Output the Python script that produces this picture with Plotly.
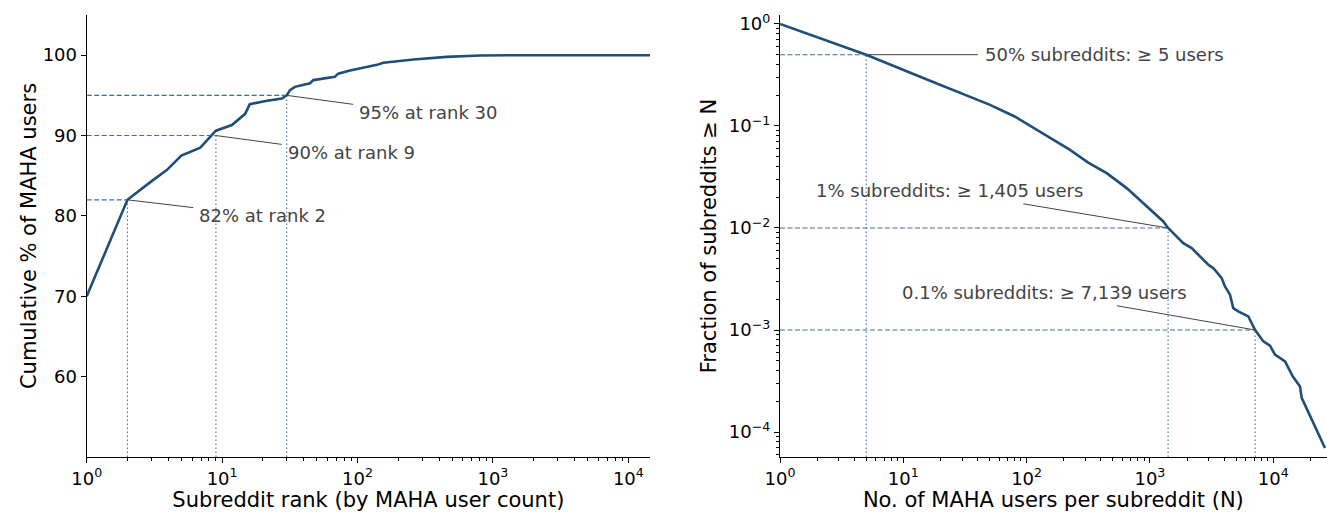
import numpy as np
import plotly.graph_objects as go

# ---------------- data ----------------
# Left panel: cumulative share of MAHA users by subreddit rank
rank = [1, 2, 3, 3.9, 5, 5.8, 6.9, 9, 11.8, 14.8, 16, 21, 27.6, 30, 31.7, 34.5,
        44.6, 47.2, 68, 72, 88, 142, 155, 259, 456, 803, 1415, 14500]
cum_pct = [70, 82, 84.3, 85.7, 87.5, 88.0, 88.5, 90.6, 91.3, 92.7, 93.9, 94.3,
           94.6, 95.0, 95.65, 96.06, 96.5, 96.9, 97.3, 97.7, 98.1, 98.84, 99.05,
           99.46, 99.79, 99.96, 100, 100]

# Right panel: CCDF of MAHA users per subreddit
n_users = [1, 5, 14.5, 50.5, 80, 128, 225, 316, 446, 648, 942, 1285, 1405, 1866, 2183,
           2979, 3268, 3820, 4064, 4464, 4745, 5212, 6280, 7139, 8320, 9420, 10340,
           12480, 14400, 16500, 17020, 26300]
frac_ge = [1, 0.5, 0.295, 0.161, 0.124, 0.088, 0.0583, 0.0438, 0.0345, 0.0246, 0.0163,
           0.0116, 0.01, 0.00711, 0.00635, 0.00436, 0.00405, 0.00323, 0.00267,
           0.00222, 0.00164, 0.00152, 0.00136, 0.001, 0.000773, 0.000701, 0.000573,
           0.000493, 0.000352, 0.00028, 0.000216, 6.98e-5]

# Reference markers
left_marks_rank = [2, 9, 30]
left_marks_pct = [82, 90, 95]
left_labels = ["82% at rank 2", "90% at rank 9", "95% at rank 30"]

right_marks_n = [5, 1405, 7139]
right_marks_frac = [0.5, 0.01, 0.001]
right_labels = ["50% subreddits: \u2265 5 users",
                "1% subreddits: \u2265 1,405 users",
                "0.1% subreddits: \u2265 7,139 users"]

# tick labels
left_x_tickvals = [1, 10, 100, 1000, 10000]
left_x_ticktext = ["10<sup>0</sup>", "10<sup>1</sup>", "10<sup>2</sup>", "10<sup>3</sup>", "10<sup>4</sup>"]
left_y_tickvals = [60, 70, 80, 90, 100]
right_x_tickvals = [1, 10, 100, 1000, 10000]
right_x_ticktext = left_x_ticktext
right_y_tickvals = [1, 0.1, 0.01, 0.001, 0.0001]
right_y_ticktext = ["10<sup>0</sup>", "10<sup>\u22121</sup>", "10<sup>\u22122</sup>",
                    "10<sup>\u22123</sup>", "10<sup>\u22124</sup>"]

# ---------------- style ----------------
FONT = "DejaVu Sans"
CURVE = "#1f4e79"
REF = "rgba(45,95,150,0.9)"
TXT = "#444444"
LEFT_YMIN = 50
RIGHT_YMIN = 10 ** -4.245

# annotation text anchors (left edge, vertical middle) and leader-line tails
left_text_pos = [(6.56, 80.0), (29.6, 87.9), (98.6, 92.83)]
left_leader_tail = [(6.13, 81.03), (27.6, 88.9), (93.1, 93.88)]
right_text_pos = [(44.5, 0.497), (1.887, 0.0233), (9.4, 0.00232)]
right_leader_tail = [(40.3, 0.5), (94, 0.01726), (538, 0.00173)]

fig = go.Figure()

# main curves
fig.add_trace(go.Scatter(x=rank, y=cum_pct, mode="lines", xaxis="x", yaxis="y",
                         line=dict(color=CURVE, width=2.6), hoverinfo="skip"))
fig.add_trace(go.Scatter(x=n_users, y=frac_ge, mode="lines", xaxis="x2", yaxis="y2",
                         line=dict(color=CURVE, width=2.6), hoverinfo="skip"))

# reference lines, left
for r, p in zip(left_marks_rank, left_marks_pct):
    fig.add_trace(go.Scatter(x=[1, r], y=[p, p], mode="lines", xaxis="x", yaxis="y",
                             line=dict(color=REF, width=1.1, dash="5px,2.5px"), hoverinfo="skip"))
    fig.add_trace(go.Scatter(x=[r, r], y=[LEFT_YMIN, p], mode="lines", xaxis="x", yaxis="y",
                             line=dict(color=REF, width=1.1, dash="1.5px,2.5px"), hoverinfo="skip"))
# reference lines, right
for n, f in zip(right_marks_n, right_marks_frac):
    fig.add_trace(go.Scatter(x=[1, n], y=[f, f], mode="lines", xaxis="x2", yaxis="y2",
                             line=dict(color=REF, width=1.1, dash="5px,2.5px"), hoverinfo="skip"))
    fig.add_trace(go.Scatter(x=[n, n], y=[RIGHT_YMIN, f], mode="lines", xaxis="x2", yaxis="y2",
                             line=dict(color=REF, width=1.1, dash="1.5px,2.5px"), hoverinfo="skip"))

# leader lines
for (r, p), (tx, ty) in zip(zip(left_marks_rank, left_marks_pct), left_leader_tail):
    fig.add_trace(go.Scatter(x=[r, tx], y=[p, ty], mode="lines", xaxis="x", yaxis="y",
                             line=dict(color=TXT, width=1), hoverinfo="skip"))
for (n, f), (tx, ty) in zip(zip(right_marks_n, right_marks_frac), right_leader_tail):
    fig.add_trace(go.Scatter(x=[n, tx], y=[f, ty], mode="lines", xaxis="x2", yaxis="y2",
                             line=dict(color=TXT, width=1), hoverinfo="skip"))

annotations = []
for lab, (tx, ty) in zip(left_labels, left_text_pos):
    annotations.append(dict(x=np.log10(tx), y=ty, xref="x", yref="y", text=lab,
                            showarrow=False, xanchor="left", yanchor="middle",
                            font=dict(family=FONT, size=18, color=TXT)))
for lab, (tx, ty) in zip(right_labels, right_text_pos):
    annotations.append(dict(x=np.log10(tx), y=np.log10(ty), xref="x2", yref="y2", text=lab,
                            showarrow=False, xanchor="left", yanchor="middle",
                            font=dict(family=FONT, size=18, color=TXT)))

W, H = 1327, 512


def xdom(a, b):
    return [a / W, b / W]


def ydom(top, bottom):
    return [(H - bottom) / H, (H - top) / H]


ax_common = dict(showline=True, linecolor="black", linewidth=1.2, ticks="outside",
                 ticklen=5, tickwidth=1.1, tickcolor="black", showgrid=False,
                 zeroline=False, mirror=False, automargin=False,
                 tickfont=dict(family=FONT, size=18, color="black"))
minor_log = dict(ticks="outside", ticklen=3, tickwidth=0.9, tickcolor="black",
                 dtick="D1", showgrid=False)

fig.update_layout(
    width=W, height=H,
    margin=dict(l=0, r=0, t=0, b=0),
    paper_bgcolor="white", plot_bgcolor="white",
    showlegend=False,
    font=dict(family=FONT, size=18, color="black"),
    xaxis=dict(ax_common, type="log", domain=xdom(86.7, 650), range=[0, 4.16],
               tickmode="array", tickvals=left_x_tickvals, ticktext=left_x_ticktext,
               minor=minor_log, anchor="y",
               title=dict(text="Subreddit rank (by MAHA user count)",
                          font=dict(family=FONT, size=21), standoff=4)),
    yaxis=dict(ax_common, domain=ydom(15, 457), range=[50, 105],
               tickmode="array", tickvals=left_y_tickvals, anchor="x",
               title=dict(text="Cumulative % of MAHA users",
                          font=dict(family=FONT, size=21), standoff=0)),
    xaxis2=dict(ax_common, type="log", domain=xdom(780, 1326.7), range=[0, 4.434],
                tickmode="array", tickvals=right_x_tickvals, ticktext=right_x_ticktext,
                minor=minor_log, anchor="y2",
                title=dict(text="No. of MAHA users per subreddit (N)",
                           font=dict(family=FONT, size=21), standoff=4)),
    yaxis2=dict(ax_common, type="log", domain=ydom(15, 457), range=[-4.245, 0.088],
                tickmode="array", tickvals=right_y_tickvals, ticktext=right_y_ticktext,
                minor=minor_log, anchor="x2",
                title=dict(text="Fraction of subreddits \u2265 N",
                           font=dict(family=FONT, size=21), standoff=6)),
    annotations=annotations,
)

# remove the page's default 8px body margin so the figure fills the window exactly
fig.write_html("out.html",
               config={"displayModeBar": False},
               post_script="document.body.style.margin='0';document.body.style.overflow='hidden';")
